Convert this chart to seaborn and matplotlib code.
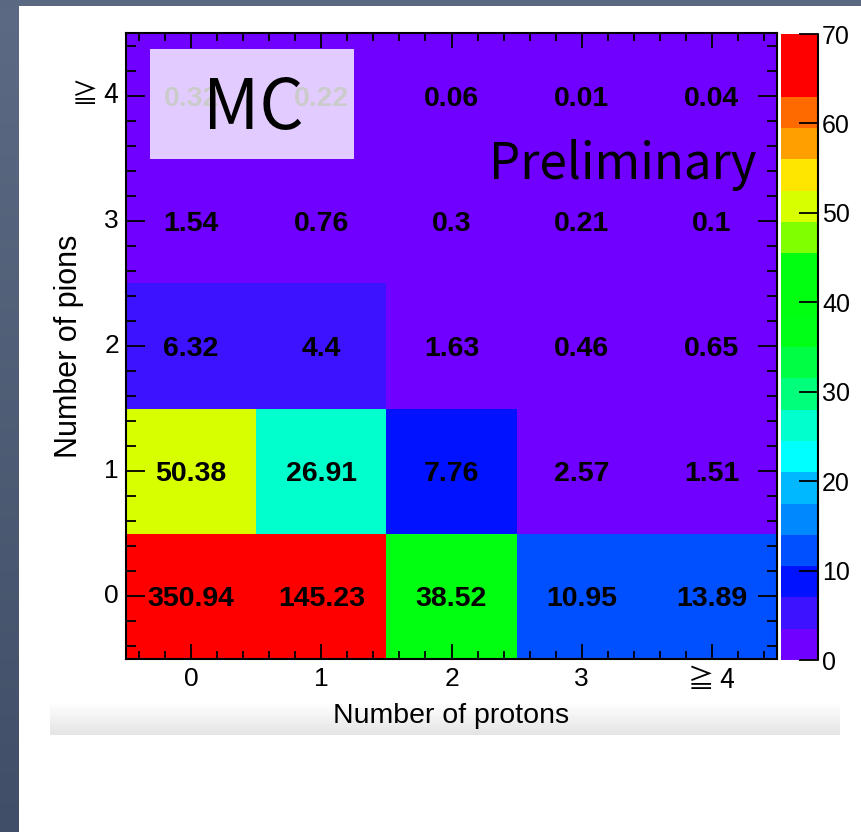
import numpy as np
import pandas as pd
import matplotlib
matplotlib.use("Agg")
import matplotlib.pyplot as plt
import seaborn as sns
from matplotlib.colors import ListedColormap, BoundaryNorm, to_rgb
from matplotlib.patches import Rectangle
from matplotlib.ticker import FixedLocator

# ---------------- data ----------------
proton_labels = ["0", "1", "2", "3", "≧ 4"]
pion_labels = ["0", "1", "2", "3", "≧ 4"]          # bottom -> top
pions_0 = [350.94, 145.23, 38.52, 10.95, 13.89]
pions_1 = [50.38, 26.91, 7.76, 2.57, 1.51]
pions_2 = [6.32, 4.4, 1.63, 0.46, 0.65]
pions_3 = [1.54, 0.76, 0.3, 0.21, 0.1]
pions_4 = [0.32, 0.22, 0.06, 0.01, 0.04]
z_max = 70
z_levels = 20
cbar_ticks = [0, 10, 20, 30, 40, 50, 60, 70]

# ROOT-like rainbow palette, one colour per contour band (bottom -> top)
band_colors = ["#7000ff", "#3c12ff", "#0012ff", "#0050ff", "#0088ff",
               "#00b8ff", "#00ffff", "#00ffcc", "#00ff7a", "#00ff44",
               "#00ff16", "#00ff10", "#00ff10", "#80ff00", "#d8ff00",
               "#ffe600", "#ffa000", "#ff6a00", "#ff0000", "#ff0000"]

rows_top_down = [pions_4, pions_3, pions_2, pions_1, pions_0]
df = pd.DataFrame(rows_top_down, index=pion_labels[::-1], columns=proton_labels)
annot = df.map(lambda v: f"{v:g}")

# ---------------- style ----------------
sns.set_style("white")
plt.rcParams["font.family"] = ["Liberation Sans", "Noto Sans CJK JP", "DejaVu Sans"]
plt.rcParams["text.color"] = "black"
plt.rcParams["axes.labelcolor"] = "black"
plt.rcParams["xtick.color"] = "black"
plt.rcParams["ytick.color"] = "black"
plt.rcParams["axes.axisbelow"] = False

W, H = 862, 832
fig = plt.figure(figsize=(W / 100, H / 100), dpi=100)
fig.patch.set_facecolor("white")

def fx(px):
    return px / W

def fy(py):
    return 1 - py / H

# slate frame (left strip with vertical gradient, thin top strip)
strip = fig.add_axes([0, 0, fx(19), 1], zorder=-5)
c_top, c_bot = np.array(to_rgb("#5c6b83")), np.array(to_rgb("#414e67"))
t = np.linspace(0, 1, 256)[:, None, None]
strip.imshow(c_top * (1 - t) + c_bot * t, aspect="auto", extent=[0, 1, 0, 1])
strip.set_axis_off()
fig.add_artist(Rectangle((0, fy(6)), 1, 6 / H, transform=fig.transFigure,
                         facecolor="#5a6981", edgecolor="none", zorder=-4))

# light gray gradient band behind the x label
band = fig.add_axes([fx(50), fy(735), fx(790), 32 / H], zorder=-5)
g_top, g_bot = np.array(to_rgb("#ffffff")), np.array(to_rgb("#e4e4e4"))
band.imshow(g_top * (1 - t) + g_bot * t, aspect="auto", extent=[0, 1, 0, 1])
band.set_axis_off()

# main heat map + colour bar axes
ax = fig.add_axes([fx(126), fy(659), fx(777) - fx(126), (659 - 33) / H])
cax = fig.add_axes([fx(781), fy(660), fx(818) - fx(781), (660 - 34) / H])

levels = np.linspace(0, z_max, z_levels + 1)
cmap = ListedColormap(band_colors)
cmap.set_over(band_colors[-1])
cmap.set_under(band_colors[0])
norm = BoundaryNorm(levels, cmap.N)

sns.heatmap(df, ax=ax, cbar_ax=cax, cmap=cmap, norm=norm,
            annot=annot, fmt="",
            annot_kws=dict(fontsize=20.5, fontweight="bold", color="black",
                           va="center_baseline"),
            linewidths=0, xticklabels=proton_labels,
            yticklabels=pion_labels[::-1])
ax.set_axisbelow(False)

# frame and ROOT-style ticks
for s in ax.spines.values():
    s.set_visible(True)
    s.set_color("black")
    s.set_linewidth(1.5)

minor_pos = [p for p in np.round(np.arange(0.1, 5.0, 0.2), 2)
             if abs((p - 0.5) - round(p - 0.5)) > 1e-6]
ax.xaxis.set_minor_locator(FixedLocator(minor_pos))
ax.yaxis.set_minor_locator(FixedLocator(minor_pos))
ax.tick_params(axis="both", which="both", direction="in", top=True, right=True,
               bottom=True, left=True, color="black", width=1.3,
               labelcolor="black")
ax.tick_params(axis="x", which="major", length=11, labelsize=19, pad=6)
ax.tick_params(axis="x", which="minor", length=6)
ax.tick_params(axis="y", which="major", length=14, labelsize=19, pad=5)
ax.tick_params(axis="y", which="minor", length=7)
plt.setp(ax.get_yticklabels(), rotation=0, va="center")
plt.setp(ax.get_xticklabels(), rotation=0)
for lab in ax.get_xticklabels() + ax.get_yticklabels():
    if lab.get_text().startswith("≧"):
        lab.set_fontfamily(["Noto Sans CJK JP", "DejaVu Sans"])
        lab.set_fontsize(19)

ax.set_xlabel("Number of protons", fontsize=20.5, color="black")
ax.set_ylabel("Number of pions", fontsize=22, color="black")
ax.xaxis.set_label_coords(0.5, -0.07)
ax.yaxis.set_label_coords(-0.064, 0.5)

# colour bar
cbar = ax.collections[0].colorbar
cbar.outline.set_visible(False)
cbar.set_ticks(cbar_ticks)
cax.set_axisbelow(False)
cax.tick_params(axis="y", which="major", direction="in", length=14, width=1.3,
                color="black", labelcolor="black", labelsize=18, pad=3,
                right=True, left=False)
cax.tick_params(axis="y", which="minor", length=0)
cax.plot([1, 1], [0, 1], transform=cax.transAxes, color="black", lw=1.5,
         clip_on=False)

# overlay: "MC" box and "Preliminary"
fig.add_artist(Rectangle((fx(150), fy(159)), fx(354) - fx(150), 110 / H,
                         transform=fig.transFigure, facecolor="white",
                         edgecolor="none", alpha=0.8, zorder=5))
fig.text(fx(253), fy(129), "MC", ha="center", va="baseline", fontsize=50,
         family=["Noto Sans CJK JP", "DejaVu Sans"], color="black", zorder=6)
fig.text(fx(757), fy(179), "Preliminary", ha="right", va="baseline",
         fontsize=35.5, family=["Noto Sans CJK JP", "DejaVu Sans"],
         color="black", zorder=6)

fig.savefig("out.png", dpi=100)
